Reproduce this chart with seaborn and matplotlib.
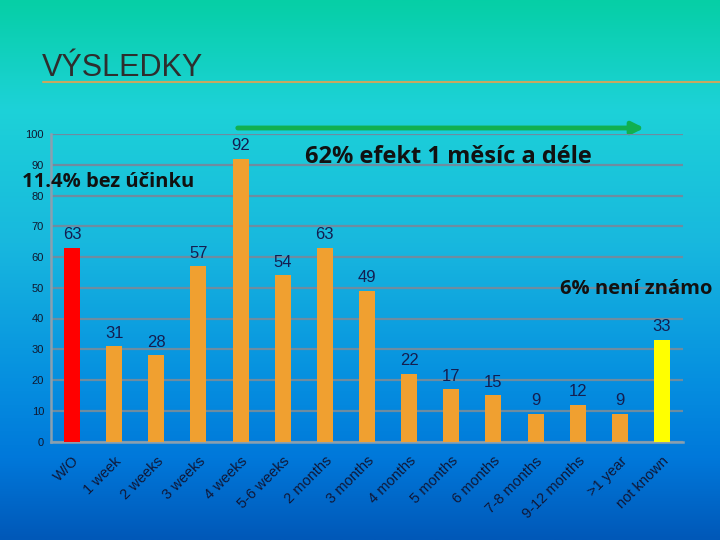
import numpy as np
import matplotlib
matplotlib.use("Agg")
import matplotlib.pyplot as plt
from matplotlib.colors import LinearSegmentedColormap
import seaborn as sns

categories = ["W/O", "1 week", "2 weeks", "3 weeks", "4 weeks", "5-6 weeks",
              "2 months", "3 months", "4 months", "5 months", "6 months",
              "7-8 months", "9-12 months", ">1 year", "not known"]
values = [63, 31, 28, 57, 92, 54, 63, 49, 22, 17, 15, 9, 12, 9, 33]
bar_colors = ["#FF0000"] + ["#F0A030"] * 13 + ["#FFFF00"]
yticks = [0, 10, 20, 30, 40, 50, 60, 70, 80, 90, 100]

sns.set_style("white")
plt.rcParams['font.family'] = ['DejaVu Sans']

fig = plt.figure(figsize=(7.2, 5.4), dpi=100)

# background gradient
bg = fig.add_axes([0, 0, 1, 1], zorder=-10)
cmap = LinearSegmentedColormap.from_list("bg", [
    (0.0, "#06CFA6"), (0.2, "#1DD2D8"), (0.45, "#18B8DE"),
    (0.7, "#0690E0"), (0.85, "#0078DA"), (1.0, "#0058B8")])
grad = np.linspace(0, 1, 256).reshape(-1, 1)
bg.imshow(grad, aspect="auto", cmap=cmap, extent=[0, 1, 0, 1], origin="upper")
bg.set_axis_off()

# title
fig.text(0.058, 1 - 68/540, "VÝSLEDKY", fontsize=22, color="#2E2E2E",
         family="Liberation Sans", va="center", ha="left")
bg.plot([0.06, 1.0], [1 - 82/540, 1 - 82/540], color="#C8A860", lw=1.5,
        transform=bg.transAxes)

ax = fig.add_axes([51/720, 1 - 441.5/540, 632/720, 307.5/540])
ax.set_facecolor("none")
sns.barplot(x=categories, y=values, hue=categories, palette=bar_colors,
            legend=False, width=0.38, ax=ax, saturation=1, zorder=3,
            linewidth=0, edgecolor="none")

for c in ax.containers:
    ax.bar_label(c, fontsize=12, color="#141E50", padding=4,
                 family="Liberation Sans")

ax.set_ylim(0, 100)
ax.set_xlim(-0.5, len(categories) - 0.5)
ax.set_yticks(yticks)
ax.set_yticklabels([str(t) for t in yticks], fontsize=8, color="#101830",
                   family="Liberation Sans")
ax.yaxis.grid(True, color="#6E8CA0", lw=1.6, zorder=0)
ax.set_axisbelow(True)
ax.set_xlabel("")
ax.set_ylabel("")

ax.set_xticks(range(len(categories)))
ax.set_xticklabels(categories, rotation=45, ha="right", va="top",
                   rotation_mode="anchor", fontsize=10.5, color="#101838",
                   family="Liberation Sans")
ax.tick_params(axis="x", length=0, pad=9)
ax.set_xticks(np.arange(-0.5, len(categories), 1), minor=True)
ax.tick_params(axis="x", which="minor", length=4, color="#8AA0B0", width=1.5)
ax.tick_params(axis="y", length=3, color="#8AA0B0", width=1.5, pad=2)

for s in ["top", "right"]:
    ax.spines[s].set_visible(False)
for s in ["left", "bottom"]:
    ax.spines[s].set_color("#8AA0B0")
    ax.spines[s].set_linewidth(1.8)

# annotations
fig.text(305/720, 1 - 157/540, "62% efekt 1 měsíc a déle", fontsize=17,
         fontweight="bold", color="#111111", family="Open Sans", va="center")
fig.text(22/720, 1 - 182/540, "11.4% bez účinku", fontsize=14.5,
         fontweight="bold", color="#111111", family="Open Sans", va="center")
fig.text(560/720, 1 - 289/540, "6% není známo", fontsize=14.5,
         fontweight="bold", color="#111111", family="Open Sans", va="center")

bg.annotate("", xy=(647/720, 1 - 128/540), xytext=(235/720, 1 - 128/540),
            xycoords=bg.transAxes, textcoords=bg.transAxes,
            arrowprops=dict(arrowstyle="-|>,head_length=0.7,head_width=0.35",
                            color="#10B050", lw=3.5))

fig.savefig("out.png", dpi=100)
